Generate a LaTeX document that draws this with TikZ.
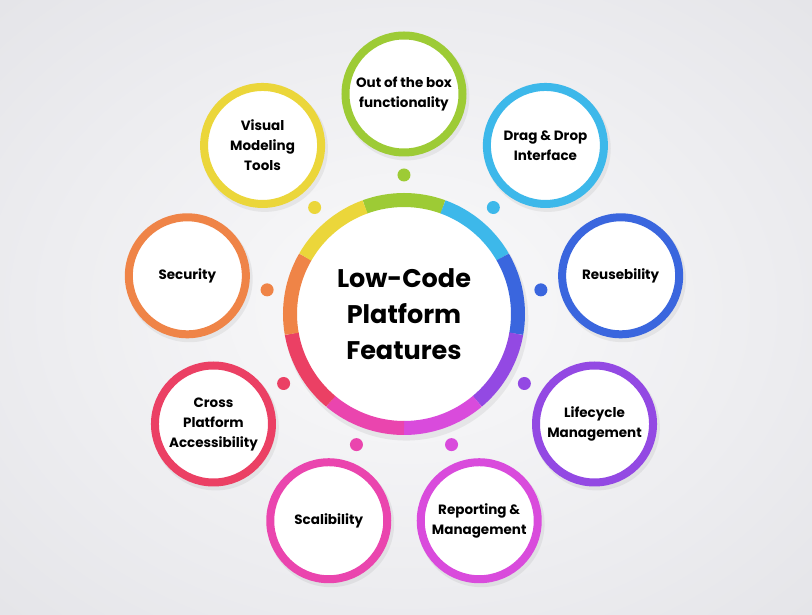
\documentclass[tikz,border=0pt]{standalone}
\usepackage{fontspec}
\setmainfont{Poppins}
\usetikzlibrary{shadows}

\definecolor{bgA}{HTML}{FAFAFB}
\definecolor{bgB}{HTML}{EDEDF0}
\definecolor{bgC}{HTML}{DCDCE1}
\definecolor{cgreen}{HTML}{9DCB35}
\definecolor{clblue}{HTML}{3DB8EA}
\definecolor{cblue}{HTML}{3A66DE}
\definecolor{cpurple}{HTML}{9349E3}
\definecolor{cmagenta}{HTML}{D94BDC}
\definecolor{cpink}{HTML}{EA45AE}
\definecolor{cred}{HTML}{EB4064}
\definecolor{corange}{HTML}{EF8447}
\definecolor{cyellow}{HTML}{EBD63A}

\pgfdeclareradialshading{bgshade}{\pgfpoint{0bp}{0bp}}{color(0bp)=(bgA); color(22bp)=(bgB); color(50bp)=(bgC); color(72bp)=(bgC)}

\tikzset{
  feature/.style={circle,draw=#1,fill=white,line width=8pt,minimum size=117pt,inner sep=0pt,
    align=center,font=\fontsize{13.5}{20}\selectfont\bfseries,
    drop shadow={shadow xshift=2pt,shadow yshift=-3pt,shadow scale=1.08,opacity=0.12}},
  knob/.style={circle,fill=#1,minimum size=13pt,inner sep=0pt},
  ringseg/.style={line width=14pt,draw=#1},
}

\begin{document}
\begin{tikzpicture}[x=1pt,y=1pt,line cap=butt]
  \shade[shading=bgshade] (-404,-301) rectangle (408,314);
  \useasboundingbox (-404,-301) rectangle (408,314);

  % centre
  \node[circle,fill=white,minimum size=216pt,inner sep=0pt,align=center,
    font=\fontsize{25.5}{36}\selectfont\bfseries,
    drop shadow={shadow xshift=2pt,shadow yshift=-4pt,shadow scale=1.13,opacity=0.12}]
    (core) at (0,0) {Low-Code\\Platform\\Features};
  \draw[ringseg=cgreen] (70:114) arc[start angle=70,end angle=110,radius=114];
  \draw[ringseg=clblue] (30:114) arc[start angle=30,end angle=70,radius=114];
  \draw[ringseg=cblue] (-10:114) arc[start angle=-10,end angle=30,radius=114];
  \draw[ringseg=cpurple] (-50:114) arc[start angle=-50,end angle=-10,radius=114];
  \draw[ringseg=cmagenta] (-90:114) arc[start angle=-90,end angle=-50,radius=114];
  \draw[ringseg=cpink] (-130:114) arc[start angle=-130,end angle=-90,radius=114];
  \draw[ringseg=cred] (-170:114) arc[start angle=-170,end angle=-130,radius=114];
  \draw[ringseg=corange] (150:114) arc[start angle=150,end angle=190,radius=114];
  \draw[ringseg=cyellow] (110:114) arc[start angle=110,end angle=150,radius=114];

  % dots
  \node[knob=cgreen] (dotbox) at (90:139) {};
  \node[knob=clblue] (dotdrag) at (50:139) {};
  \node[knob=cblue] (dotreuse) at (10:139) {};
  \node[knob=cpurple] (dotlife) at (-30:139) {};
  \node[knob=cmagenta] (dotreport) at (-70:139) {};
  \node[knob=cpink] (dotscale) at (-110:139) {};
  \node[knob=cred] (dotcross) at (-150:139) {};
  \node[knob=corange] (dotsec) at (170:139) {};
  \node[knob=cyellow] (dotvisual) at (130:139) {};

  % features
  \node[feature=cgreen] (box) at (90:220) {Out of the box\\functionality};
  \node[feature=clblue] (drag) at (50:220) {Drag \& Drop\\Interface};
  \node[feature=cblue] (reuse) at (10:220) {Reusebility};
  \node[feature=cpurple] (life) at (-30:220) {Lifecycle\\Management};
  \node[feature=cmagenta] (report) at (-70:220) {Reporting \&\\Management};
  \node[feature=cpink] (scale) at (-110:220) {Scalibility};
  \node[feature=cred] (cross) at (-150:220) {Cross\\Platform\\Accessibility};
  \node[feature=corange] (sec) at (170:220) {Security};
  \node[feature=cyellow] (visual) at (130:220) {Visual\\Modeling\\Tools};
\end{tikzpicture}
\end{document}
